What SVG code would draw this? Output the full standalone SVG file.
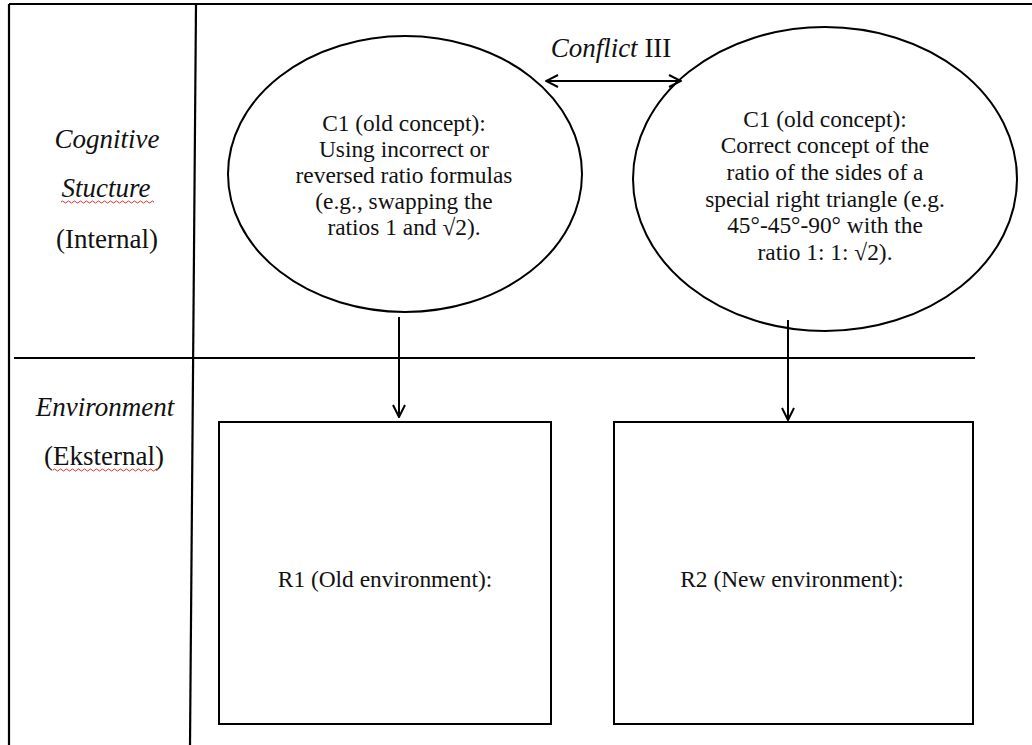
<svg xmlns="http://www.w3.org/2000/svg" width="1032" height="745" viewBox="0 0 1032 745">
  <style>
    .frame { stroke: #000; stroke-width: 2.2; fill: none; }
    .shape { stroke: #000; stroke-width: 2; fill: #fff; }
    .conn { stroke: #000; stroke-width: 2; fill: none; }
    .t { fill: #111; text-anchor: middle; }
    .lbl { font-size: 27px; }
    .body { font-size: 23.4px; }
    .it { font-style: italic; }
    .squig { stroke: #e0322e; stroke-width: 1; fill: none; }
  </style>
  <defs>
    <marker id="open" viewBox="0 0 14 14" refX="13" refY="7" markerWidth="14" markerHeight="14" markerUnits="userSpaceOnUse" orient="auto-start-reverse">
      <path d="M1,1 L13,7 L1,13" fill="none" stroke="#000" stroke-width="2"/>
    </marker>
  </defs>
  <rect width="1032" height="745" fill="#fff"/>

  <!-- table frame and dividers -->
  <g id="frame">
    <line class="frame" x1="9" y1="4" x2="1032" y2="4"/>
    <line class="frame" x1="9" y1="4" x2="9" y2="745"/>
    <line class="frame" x1="196" y1="4" x2="190" y2="745"/>
    <line class="frame" x1="14" y1="358" x2="975" y2="358"/>
  </g>

  <g font-family="'Liberation Serif', 'DejaVu Serif', serif">
    <!-- row labels -->
    <g id="label-internal">
      <text class="t lbl it" x="107" y="148">Cognitive</text>
      <text class="t lbl it" x="106" y="197">Stucture</text>
      <path class="squig" d="M61,202 q1.5,-2 3,0 t3,0 t3,0 t3,0 t3,0 t3,0 t3,0 t3,0 t3,0 t3,0 t3,0 t3,0 t3,0 t3,0 t3,0 t3,0 t3,0 t3,0 t3,0 t3,0 t3,0 t3,0 t3,0 t3,0 t3,0 t3,0 t3,0 t3,0 t3,0 t3,0 t3,0"/>
      <text class="t lbl" x="107" y="248">(Internal)</text>
    </g>
    <g id="label-external">
      <text class="t lbl it" x="105" y="416">Environment</text>
      <text class="t lbl" x="104" y="465">(Eksternal)</text>
      <path class="squig" d="M53,470 q1.5,-2 3,0 t3,0 t3,0 t3,0 t3,0 t3,0 t3,0 t3,0 t3,0 t3,0 t3,0 t3,0 t3,0 t3,0 t3,0 t3,0 t3,0 t3,0 t3,0 t3,0 t3,0 t3,0 t3,0 t3,0 t3,0 t3,0 t3,0 t3,0 t3,0 t3,0 t3,0 t3,0 t3,0 t3,0 t3,0"/>
    </g>

    <!-- concept C1 (old) -->
    <g id="c1-old">
      <ellipse class="shape" cx="405" cy="174" rx="177" ry="138"/>
      <text class="t body" x="404" y="131">C1 (old concept):</text>
      <text class="t body" x="404" y="157">Using incorrect or</text>
      <text class="t body" x="404" y="183">reversed ratio formulas</text>
      <text class="t body" x="404" y="209">(e.g., swapping the</text>
      <text class="t body" x="404" y="235">ratios 1 and √2).</text>
    </g>

    <!-- concept C1 (correct) -->
    <g id="c1-correct">
      <ellipse class="shape" cx="825" cy="179" rx="192" ry="152"/>
      <text class="t body" x="825" y="127">C1 (old concept):</text>
      <text class="t body" x="825" y="153">Correct concept of the</text>
      <text class="t body" x="825" y="180">ratio of the sides of a</text>
      <text class="t body" x="825" y="207">special right triangle (e.g.</text>
      <text class="t body" x="825" y="233">45°-45°-90° with the</text>
      <text class="t body" x="825" y="260">ratio 1: 1: √2).</text>
    </g>

    <!-- environments -->
    <g id="r1">
      <rect class="shape" x="219" y="422" width="332" height="302"/>
      <text class="t body" x="385" y="587" font-size="24">R1 (Old environment):</text>
    </g>
    <g id="r2">
      <rect class="shape" x="614" y="422" width="359" height="302"/>
      <text class="t body" x="792" y="587" font-size="25">R2 (New environment):</text>
    </g>

    <!-- conflict label -->
    <g id="conflict">
      <text class="t" x="611" y="57" font-size="27"><tspan font-style="italic">Conflict</tspan> III</text>
    </g>
  </g>

  <!-- connectors -->
  <g id="connectors">
    <line class="conn" x1="546" y1="81" x2="681" y2="81" marker-start="url(#open)" marker-end="url(#open)"/>
    <line class="conn" x1="399" y1="317" x2="399" y2="417" marker-end="url(#open)"/>
    <line class="conn" x1="788" y1="320" x2="788" y2="420" marker-end="url(#open)"/>
  </g>
</svg>
